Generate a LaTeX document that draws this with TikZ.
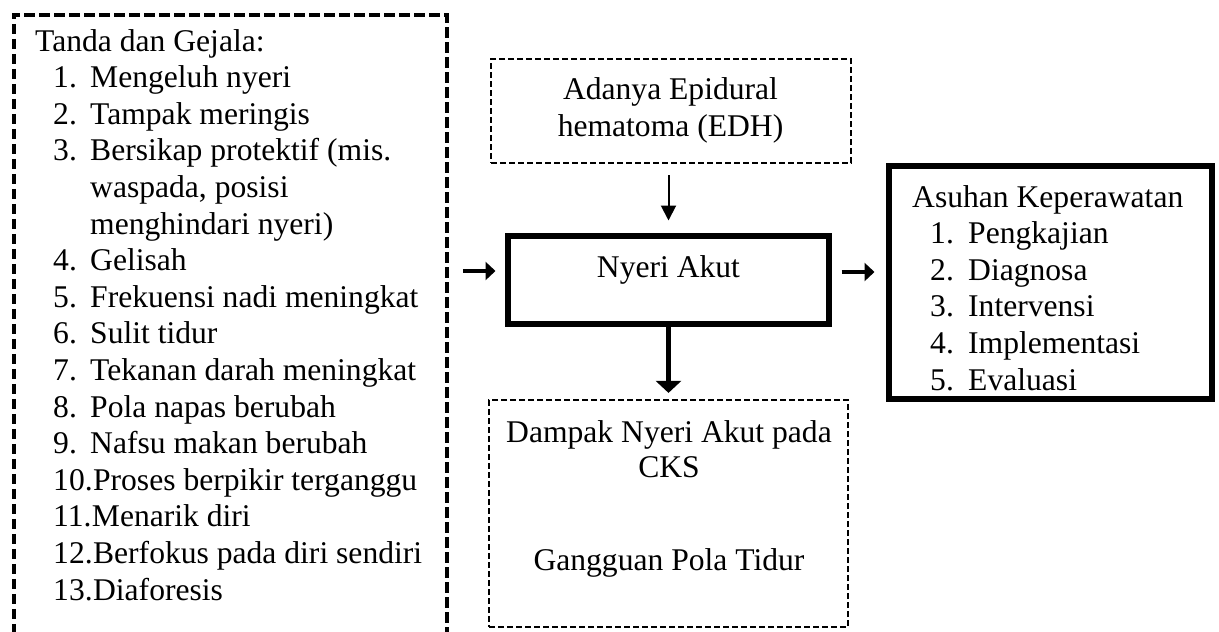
\documentclass[tikz,border=0pt]{standalone}
\usepackage{fontspec}
\setmainfont{Liberation Serif}
\usetikzlibrary{arrows.meta}
\begin{document}
\begin{tikzpicture}[x=1pt,y=-1pt,
  txt/.style={inner sep=0pt, font=\fontsize{31.6}{36.6}\selectfont},
  leftframe/.style={draw, line width=3.8pt, dash pattern=on 10.5pt off 4.5pt, inner sep=0pt},
  thinframe/.style={draw, line width=2.2pt, dash pattern=on 6pt off 3pt, inner sep=0pt},
  thickframe/.style={draw, line width=6pt, inner sep=0pt},
  arrowthin/.style={line width=2pt, -{Triangle[length=15pt,width=15pt]}},
  arrowmid/.style={line width=3.8pt, -{Triangle[length=10pt,width=18pt]}},
  arrowthick/.style={line width=4.8pt, -{Triangle[length=12pt,width=25pt]}}
]
\useasboundingbox (0,0) rectangle (1219,632);
\clip (0,0) rectangle (1219,632);

% frames
\node[leftframe, anchor=north west, minimum width=433pt, minimum height=700pt] (gejala) at (12,13) {};
\node[thinframe, minimum width=360pt, minimum height=104pt] (edh) at (671,111) {};
\node[thickframe, minimum width=321pt, minimum height=88pt] (nyeri) at (668.5,280) {};
\node[thickframe, minimum width=323pt, minimum height=233pt] (asuhan) at (1050.5,282.5) {};
\node[thinframe, minimum width=359pt, minimum height=227pt] (dampak) at (668.5,513.5) {};

% centre texts
\node[txt, anchor=base] (tedh1) at (670.5,99) {Adanya Epidural};
\node[txt, anchor=base] (tedh2) at (670.5,136) {hematoma (EDH)};
\node[txt, anchor=base] (tnyeri) at (668.5,277) {Nyeri Akut};
\node[txt, anchor=base] (td1) at (669,442) {Dampak Nyeri Akut pada};
\node[txt, anchor=base] (td2) at (669,477) {CKS};
\node[txt, anchor=base] (td3) at (669,570) {Gangguan Pola Tidur};

% left list
\node[txt, anchor=base west] (g0) at (35,51) {Tanda dan Gejala:};
\node[txt, anchor=base west] (n1) at (53,87.6) {1.};
\node[txt, anchor=base west] (g1) at (90,87.6) {Mengeluh nyeri};
\node[txt, anchor=base west] (n2) at (53,124.2) {2.};
\node[txt, anchor=base west] (g2) at (90,124.2) {Tampak meringis};
\node[txt, anchor=base west] (n3) at (53,160.8) {3.};
\node[txt, anchor=base west] (g3) at (90,160.8) {Bersikap protektif (mis.};
\node[txt, anchor=base west] (g3b) at (90,197.4) {waspada, posisi};
\node[txt, anchor=base west] (g3c) at (90,234.0) {menghindari nyeri)};
\node[txt, anchor=base west] (n4) at (53,270.6) {4.};
\node[txt, anchor=base west] (g4) at (90,270.6) {Gelisah};
\node[txt, anchor=base west] (n5) at (53,307.2) {5.};
\node[txt, anchor=base west] (g5) at (90,307.2) {Frekuensi nadi meningkat};
\node[txt, anchor=base west] (n6) at (53,343.8) {6.};
\node[txt, anchor=base west] (g6) at (90,343.8) {Sulit tidur};
\node[txt, anchor=base west] (n7) at (53,380.4) {7.};
\node[txt, anchor=base west] (g7) at (90,380.4) {Tekanan darah meningkat};
\node[txt, anchor=base west] (n8) at (53,417.0) {8.};
\node[txt, anchor=base west] (g8) at (90,417.0) {Pola napas berubah};
\node[txt, anchor=base west] (n9) at (53,453.6) {9.};
\node[txt, anchor=base west] (g9) at (90,453.6) {Nafsu makan berubah};
\node[txt, anchor=base west] (n10) at (53,490.2) {10.};
\node[txt, anchor=base west] (g10) at (n10.base east) {Proses berpikir terganggu};
\node[txt, anchor=base west] (n11) at (53,526.8) {11.};
\node[txt, anchor=base west] (g11) at (n11.base east) {Menarik diri};
\node[txt, anchor=base west] (n12) at (53,563.4) {12.};
\node[txt, anchor=base west] (g12) at (n12.base east) {Berfokus pada diri sendiri};
\node[txt, anchor=base west] (n13) at (53,600.0) {13.};
\node[txt, anchor=base west] (g13) at (n13.base east) {Diaforesis};

% right list
\node[txt, anchor=base west] (a0) at (912,207) {Asuhan Keperawatan};
\node[txt, anchor=base west] (m1) at (930,243.6) {1.};
\node[txt, anchor=base west] (a1) at (968,243.6) {Pengkajian};
\node[txt, anchor=base west] (m2) at (930,280.2) {2.};
\node[txt, anchor=base west] (a2) at (968,280.2) {Diagnosa};
\node[txt, anchor=base west] (m3) at (930,316.8) {3.};
\node[txt, anchor=base west] (a3) at (968,316.8) {Intervensi};
\node[txt, anchor=base west] (m4) at (930,353.4) {4.};
\node[txt, anchor=base west] (a4) at (968,353.4) {Implementasi};
\node[txt, anchor=base west] (m5) at (930,390.0) {5.};
\node[txt, anchor=base west] (a5) at (968,390.0) {Evaluasi};

% connectors
\coordinate (lin) at ([yshift=9pt]nyeri.west);
\coordinate (rin) at ([yshift=8pt]nyeri.east);
\draw[arrowthin, shorten <=11pt, shorten >=12.5pt] (edh.south -| nyeri.north) -- (nyeri.north);
\draw[arrowmid, shorten <=14pt, shorten >=9.5pt] (lin -| gejala.east) -- (lin);
\draw[arrowmid, shorten <=9.5pt, shorten >=11.5pt] (rin) -- (rin -| asuhan.west);
\draw[arrowthick, shorten >=6pt] (nyeri.south) -- (dampak.north);
\end{tikzpicture}
\end{document}
